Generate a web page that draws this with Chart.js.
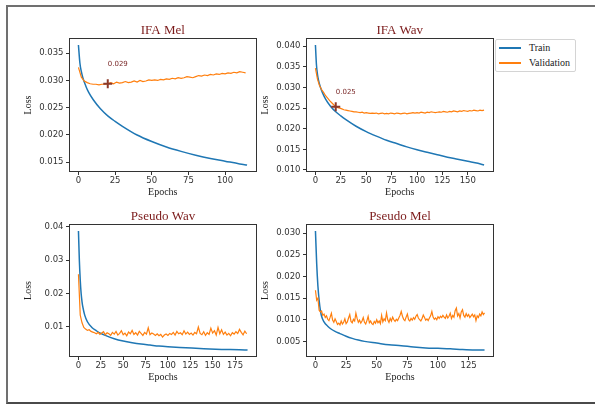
<!DOCTYPE html>
<html>
<head>
<meta charset="utf-8">
<script src="https://cdn.jsdelivr.net/npm/chart.js@4.4.1/dist/chart.umd.min.js"></script>
<style>
  html, body { margin: 0; padding: 0; background: #fff; }
  #page { position: relative; width: 595px; height: 405px; overflow: hidden; }
  #frame { position: absolute; left: 6px; top: 5px; width: 640px; height: 399px; box-sizing: border-box;
           border: 2px solid #707070; border-right: none; border-bottom-color: #4a4a4a; }
  canvas { position: absolute; }
  #legend { position: absolute; left: 495px; top: 39px; width: 81px; height: 33px; box-sizing: border-box;
            border: 1px solid #d4d4d4; border-radius: 2px; background: #fff;
            font: 10px "Liberation Serif", serif; color: #222; }
  #legend .row { position: absolute; left: 0; width: 100%; height: 12px; line-height: 12px; }
  #legend .swatch { position: absolute; left: 3px; top: 5px; width: 22px; height: 1.5px; }
  #legend .label { position: absolute; left: 33px; top: 0; }
</style>
</head>
<body>
<div id="page">
  <div id="frame"></div>
  <canvas id="ifaMel" width="252" height="195" style="left:10px; top:10px"></canvas>
  <canvas id="ifaWav" width="245" height="195" style="left:254px; top:10px"></canvas>
  <canvas id="pseudoWav" width="252" height="194" style="left:10px; top:196px"></canvas>
  <canvas id="pseudoMel" width="245" height="194" style="left:254px; top:196px"></canvas>
  <div id="legend">
    <div class="row" style="top:2px"><span class="swatch" style="background:#1f77b4"></span><span class="label">Train</span></div>
    <div class="row" style="top:17px"><span class="swatch" style="background:#ff7f0e"></span><span class="label">Validation</span></div>
  </div>
</div>
<script>
// ---- data ----

// IFA Mel
const ifaMelTrainEpochs = [0, 1, 2, 3, 5, 7, 10, 15, 20, 25, 30, 40, 50, 60, 70, 80, 90, 100, 110, 115];
const ifaMelTrainLoss = [0.0365, 0.0332, 0.0316, 0.0305, 0.0290, 0.0278, 0.0265, 0.0248, 0.0235, 0.0225,
  0.0216, 0.0200, 0.0188, 0.0178, 0.0170, 0.0163, 0.0157, 0.0152, 0.0147, 0.0145];
const ifaMelValStep = 2; // one value every 2 epochs
const ifaMelValLoss = [0.0324, 0.0306, 0.0299, 0.0296, 0.0294, 0.0293, 0.0293, 0.0292, 0.0293, 0.0293,
  0.0294, 0.0296, 0.0294, 0.0297, 0.0295, 0.0296, 0.0298, 0.0296, 0.0297, 0.0299,
  0.0297, 0.0300, 0.0298, 0.0299, 0.0301, 0.0300, 0.0301, 0.0300, 0.0302, 0.0301,
  0.0303, 0.0302, 0.0304, 0.0303, 0.0305, 0.0304, 0.0305, 0.0307, 0.0306, 0.0305,
  0.0307, 0.0309, 0.0308, 0.0310, 0.0309, 0.0311, 0.0310, 0.0312, 0.0311, 0.0313,
  0.0312, 0.0314, 0.0313, 0.0315, 0.0314, 0.0316, 0.0315, 0.0314];
const ifaMelBestEpoch = 20;
const ifaMelBestLoss = 0.0294;

// IFA Wav
const ifaWavTrainEpochs = [0, 1, 2, 3, 5, 7, 10, 15, 20, 25, 30, 40, 50, 60, 70, 80, 90, 100, 110, 120,
  130, 140, 150, 160, 166];
const ifaWavTrainLoss = [0.0403, 0.0355, 0.0332, 0.0318, 0.0300, 0.0287, 0.0272, 0.0254, 0.0241, 0.0231,
  0.0222, 0.0206, 0.0193, 0.0182, 0.0172, 0.0164, 0.0156, 0.0149, 0.0143, 0.0137,
  0.0131, 0.0126, 0.0121, 0.0116, 0.0112];
const ifaWavValStep = 2;
const ifaWavValLoss = [0.0347, 0.0320, 0.0305, 0.0295, 0.0288, 0.0280, 0.0274, 0.0268, 0.0263, 0.0258,
  0.0253, 0.0251, 0.0250, 0.0248, 0.0246, 0.0245, 0.0244, 0.0243, 0.0242, 0.0241,
  0.0241, 0.0240, 0.0239, 0.0240, 0.0238, 0.0239, 0.0238, 0.0237, 0.0238, 0.0237,
  0.0238, 0.0236, 0.0237, 0.0238, 0.0236, 0.0237, 0.0236, 0.0238, 0.0237, 0.0236,
  0.0238, 0.0237, 0.0236, 0.0237, 0.0238, 0.0236, 0.0237, 0.0238, 0.0239, 0.0238,
  0.0239, 0.0238, 0.0240, 0.0239, 0.0238, 0.0240, 0.0239, 0.0241, 0.0240, 0.0239,
  0.0240, 0.0241, 0.0240, 0.0242, 0.0241, 0.0240, 0.0242, 0.0241, 0.0243, 0.0242,
  0.0241, 0.0243, 0.0242, 0.0244, 0.0243, 0.0242, 0.0244, 0.0243, 0.0245, 0.0244,
  0.0243, 0.0245, 0.0244, 0.0245];
const ifaWavBestEpoch = 20;
const ifaWavBestLoss = 0.0253;

// Pseudo Wav
const pseudoWavTrainEpochs = [0, 1, 2, 3, 4, 5, 7, 10, 15, 20, 25, 30, 40, 50, 60, 70, 80, 90, 100, 120,
  140, 160, 180, 189];
const pseudoWavTrainLoss = [0.0388, 0.0300, 0.0240, 0.0200, 0.0175, 0.0158, 0.0135, 0.0115, 0.0098, 0.0088,
  0.0080, 0.0074, 0.0064, 0.0057, 0.0052, 0.0048, 0.0045, 0.0042, 0.0040, 0.0037,
  0.0034, 0.0032, 0.0031, 0.0030];
const pseudoWavValStep = 2;
const pseudoWavValLoss = [0.0258, 0.0135, 0.0112, 0.0098, 0.0093, 0.0089, 0.0091, 0.0086, 0.0084, 0.0082,
  0.0079, 0.0083, 0.0077, 0.0081, 0.0085, 0.0076, 0.0082, 0.0079, 0.0074, 0.0083,
  0.0078, 0.0086, 0.0075, 0.0080, 0.0088, 0.0076, 0.0081, 0.0073, 0.0084, 0.0079,
  0.0089, 0.0077, 0.0082, 0.0075, 0.0086, 0.0080, 0.0074, 0.0083, 0.0078, 0.0097,
  0.0076, 0.0081, 0.0078, 0.0074, 0.0079, 0.0073, 0.0077, 0.0069, 0.0075, 0.0078,
  0.0074, 0.0080, 0.0077, 0.0083, 0.0075, 0.0086, 0.0079, 0.0082, 0.0076, 0.0088,
  0.0078, 0.0084, 0.0077, 0.0081, 0.0075, 0.0083, 0.0079, 0.0099, 0.0080, 0.0076,
  0.0085, 0.0074, 0.0082, 0.0077, 0.0096, 0.0081, 0.0088, 0.0075, 0.0098, 0.0079,
  0.0091, 0.0077, 0.0084, 0.0075, 0.0080, 0.0073, 0.0082, 0.0078, 0.0085, 0.0080,
  0.0092, 0.0083, 0.0076, 0.0087, 0.0079];

// Pseudo Mel
const pseudoMelTrainEpochs = [0, 1, 2, 3, 4, 5, 7, 10, 13, 16, 20, 25, 30, 35, 40, 50, 60, 70, 80, 90,
  100, 110, 120, 130, 138];
const pseudoMelTrainLoss = [0.0305, 0.0230, 0.0178, 0.0145, 0.0122, 0.0108, 0.0095, 0.0085, 0.0078, 0.0073,
  0.0068, 0.0062, 0.0057, 0.0053, 0.0050, 0.0046, 0.0042, 0.0040, 0.0037, 0.0035,
  0.0034, 0.0033, 0.0031, 0.0030, 0.0030];
const pseudoMelValStep = 1;
const pseudoMelValLoss = [0.0168, 0.0145, 0.0150, 0.0122, 0.0118, 0.0120, 0.0110, 0.0113, 0.0105, 0.0109,
  0.0101, 0.0098, 0.0106, 0.0115, 0.0099, 0.0094, 0.0102, 0.0096, 0.0089, 0.0092,
  0.0088, 0.0097, 0.0090, 0.0094, 0.0102, 0.0091, 0.0095, 0.0104, 0.0112, 0.0096,
  0.0093, 0.0101, 0.0097, 0.0115, 0.0103, 0.0094, 0.0099, 0.0092, 0.0097, 0.0105,
  0.0094, 0.0090, 0.0098, 0.0108, 0.0093, 0.0097, 0.0091, 0.0089, 0.0096, 0.0092,
  0.0100, 0.0093, 0.0097, 0.0091, 0.0110, 0.0095, 0.0102, 0.0098, 0.0116, 0.0100,
  0.0094, 0.0103, 0.0097, 0.0106, 0.0100, 0.0096, 0.0101, 0.0098, 0.0104, 0.0110,
  0.0119, 0.0108, 0.0101, 0.0098, 0.0106, 0.0113, 0.0100, 0.0097, 0.0103, 0.0099,
  0.0105, 0.0101, 0.0108, 0.0112, 0.0104, 0.0100, 0.0097, 0.0103, 0.0111, 0.0105,
  0.0099, 0.0102, 0.0098, 0.0104, 0.0109, 0.0119, 0.0106, 0.0101, 0.0104, 0.0100,
  0.0107, 0.0103, 0.0108, 0.0105, 0.0110, 0.0106, 0.0103, 0.0111, 0.0104, 0.0108,
  0.0115, 0.0103, 0.0110, 0.0106, 0.0121, 0.0127, 0.0109, 0.0114, 0.0104, 0.0118,
  0.0123, 0.0110, 0.0106, 0.0114, 0.0108, 0.0112, 0.0105, 0.0109, 0.0113, 0.0107,
  0.0111, 0.0098, 0.0109, 0.0105, 0.0113, 0.0109, 0.0118, 0.0112, 0.0116];

// ---- styling ----
const BLUE = '#1f77b4';
const ORANGE = '#ff7f0e';
const INK = '#333';
const SERIF = '"Liberation Serif", "Times New Roman", serif';
const SANS = '"DejaVu Sans", sans-serif';

// box around the plot area, like matplotlib spines
const frame = {
  id: 'frame',
  afterDraw(chart) {
    const {ctx, chartArea: a} = chart;
    ctx.save();
    ctx.strokeStyle = INK;
    ctx.lineWidth = 1;
    ctx.strokeRect(Math.round(a.left) - 0.5, Math.round(a.top) - 0.5,
      Math.round(a.right - a.left) + 1, Math.round(a.bottom - a.top) + 1);
    ctx.restore();
  }
};

// value printed above the best-epoch marker
const bestLabel = {
  id: 'bestLabel',
  afterDatasetsDraw(chart, args, opts) {
    if (opts.epoch == null) return;
    const {ctx, scales: {x, y}} = chart;
    ctx.save();
    ctx.font = '7px ' + SANS;
    ctx.fillStyle = '#7b2a2a';
    ctx.textBaseline = 'middle';
    ctx.fillText(opts.loss.toFixed(3), x.getPixelForValue(opts.epoch), y.getPixelForValue(opts.loss + opts.lift));
    ctx.restore();
  }
};

function lossPanel(id, o) {
  const train = o.trainEpochs.map((x, i) => ({x, y: o.trainLoss[i]}));
  const val = o.valLoss.map((y, i) => ({x: i * o.valStep, y}));

  const last = Math.max(o.trainEpochs[o.trainEpochs.length - 1], (o.valLoss.length - 1) * o.valStep);
  const all = o.trainLoss.concat(o.valLoss);
  const lo = Math.min(...all), hi = Math.max(...all);
  const yPad = (hi - lo) * 0.05;

  const datasets = [
    {label: 'Train', data: train, borderColor: BLUE, borderWidth: 1.5, pointRadius: 0,
      cubicInterpolationMode: 'monotone', order: 3},
    {label: 'Validation', data: val, borderColor: ORANGE, borderWidth: 1.2, pointRadius: 0, order: 2}
  ];
  if (o.bestEpoch != null) {
    datasets.push({label: 'best', data: [{x: o.bestEpoch, y: o.bestLoss}], showLine: false,
      pointStyle: 'cross', pointRadius: 4.5, pointBorderWidth: 2, pointBorderColor: '#8c3a2a', order: 1});
  }

  const tickFont = {family: SANS, size: 8.5};
  const labelFont = {family: SERIF, size: 10};

  return new Chart(document.getElementById(id), {
    type: 'line',
    data: {datasets},
    options: {
      responsive: false,
      animation: false,
      devicePixelRatio: 1,
      layout: {padding: {left: 0, right: 6, top: 0, bottom: 0}},
      plugins: {
        legend: {display: false},
        tooltip: {enabled: false},
        title: {display: true, text: o.title, color: '#7b1a1a', fullSize: false,
          font: {family: SERIF, size: 13, weight: 'normal'}, padding: {top: 13, bottom: 0.4}},
        bestLabel: {epoch: o.bestEpoch, loss: o.bestLoss, lift: 0.0035}
      },
      scales: {
        x: {
          type: 'linear',
          min: -0.05 * last,
          max: 1.05 * last,
          afterFit: (s) => { s.height = o.xAxisHeight; },
          border: {display: false},
          grid: {drawOnChartArea: false, drawTicks: true, tickLength: 4, color: INK},
          ticks: {stepSize: 25, includeBounds: false, autoSkip: false, maxRotation: 0,
            padding: 1, color: INK, font: tickFont},
          title: {display: true, text: 'Epochs', color: '#222', font: labelFont, padding: {top: 0, bottom: 7}}
        },
        y: {
          min: lo - yPad,
          max: hi + yPad,
          afterFit: (s) => { s.width = o.yAxisWidth; },
          border: {display: false},
          grid: {drawOnChartArea: false, drawTicks: true, tickLength: 4, color: INK},
          ticks: {stepSize: o.yStep, includeBounds: false, autoSkip: false, padding: 2.5, color: INK,
            font: tickFont, callback: (v) => v.toFixed(o.yDecimals)},
          title: {display: true, text: 'Loss', color: '#222', font: labelFont, padding: {top: o.lossPad, bottom: 0}}
        }
      }
    },
    plugins: [frame, bestLabel]
  });
}

lossPanel('ifaMel', {
  title: 'IFA Mel', trainEpochs: ifaMelTrainEpochs, trainLoss: ifaMelTrainLoss,
  valStep: ifaMelValStep, valLoss: ifaMelValLoss, bestEpoch: ifaMelBestEpoch, bestLoss: ifaMelBestLoss,
  yStep: 0.005, yDecimals: 3, yAxisWidth: 60, lossPad: 12.5, xAxisHeight: 34
});

lossPanel('ifaWav', {
  title: 'IFA Wav', trainEpochs: ifaWavTrainEpochs, trainLoss: ifaWavTrainLoss,
  valStep: ifaWavValStep, valLoss: ifaWavValLoss, bestEpoch: ifaWavBestEpoch, bestLoss: ifaWavBestLoss,
  yStep: 0.005, yDecimals: 3, yAxisWidth: 53, lossPad: 5.5, xAxisHeight: 34
});

lossPanel('pseudoWav', {
  title: 'Pseudo Wav', trainEpochs: pseudoWavTrainEpochs, trainLoss: pseudoWavTrainLoss,
  valStep: pseudoWavValStep, valLoss: pseudoWavValLoss,
  yStep: 0.01, yDecimals: 2, yAxisWidth: 60, lossPad: 12.5, xAxisHeight: 34
});

lossPanel('pseudoMel', {
  title: 'Pseudo Mel', trainEpochs: pseudoMelTrainEpochs, trainLoss: pseudoMelTrainLoss,
  valStep: pseudoMelValStep, valLoss: pseudoMelValLoss,
  yStep: 0.005, yDecimals: 3, yAxisWidth: 53, lossPad: 5.5, xAxisHeight: 34
});
</script>
</body>
</html>
